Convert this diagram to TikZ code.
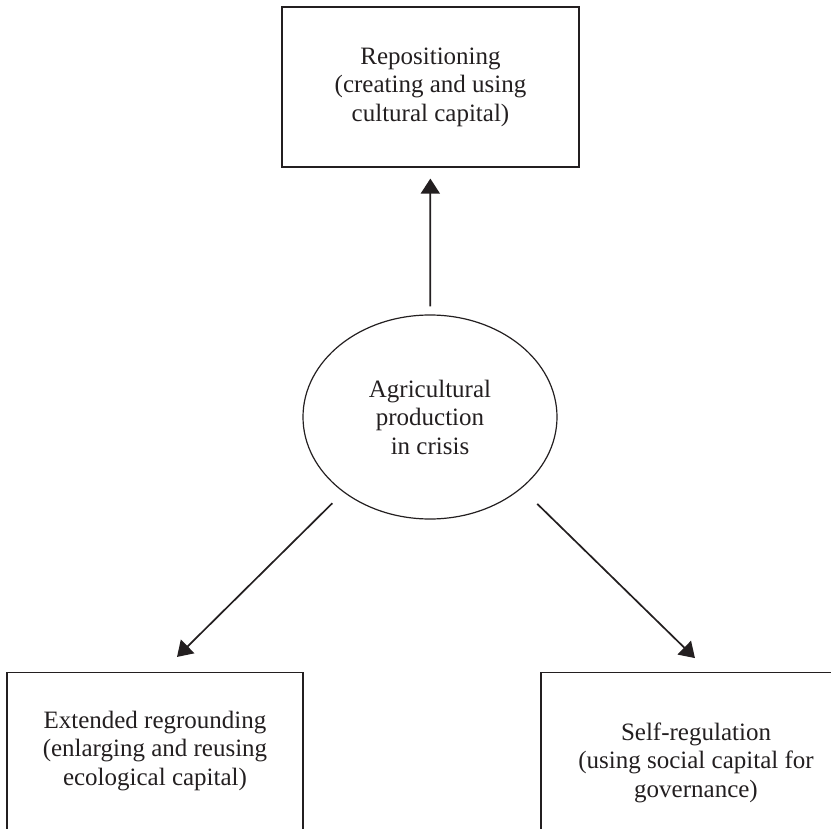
\documentclass[tikz,border=0pt]{standalone}
\usepackage{fontspec}
\setmainfont{Liberation Serif}
\usetikzlibrary{shapes.geometric,arrows.meta}
\definecolor{ink}{HTML}{231F20}
\begin{document}
\begin{tikzpicture}[x=1pt,y=-1pt,
  every node/.style={text=ink, font=\fontsize{25}{28.5}\selectfont, align=center, inner sep=0pt},
  frame/.style={draw=ink, line width=1.2pt, rectangle},
  hub/.style={draw=ink, line width=1.2pt, ellipse, minimum width=254pt, minimum height=204pt},
  link/.style={draw=ink, line width=1.7pt, -{Triangle[length=15pt,width=19pt]}}]
\useasboundingbox (0,0) rectangle (831,829);
\clip (0,0) rectangle (831,829);
% top box
\node[frame, minimum width=297pt, minimum height=160pt] (repos) at (430.5,87)
  {Repositioning\\(creating and using\\cultural capital)};
% central ellipse
\node[hub] (crisis) at (430,417)
  {Agricultural\\production\\in crisis};
% lower boxes, running off the bottom edge
\node[frame, minimum width=296pt, minimum height=180pt, anchor=north, text depth=29.5pt] (reground) at (155,672)
  {Extended regrounding\\(enlarging and reusing\\ecological capital)};
\node[frame, minimum width=310pt, minimum height=180pt, anchor=north] (selfreg) at (696,672)
  {Self-regulation\\(using social capital for\\governance)};
% connectors
\draw[link, shorten <=8pt, shorten >=11pt] (crisis) -- (repos);
\draw[link, shorten <=15.5pt, shorten >=21.4pt] (crisis.221.1) -- ([xshift=6.8pt]reground.north);
\draw[link, shorten <=22pt, shorten >=19.9pt] (crisis.322.7) -- ([xshift=13.2pt]selfreg.north);
\end{tikzpicture}
\end{document}
